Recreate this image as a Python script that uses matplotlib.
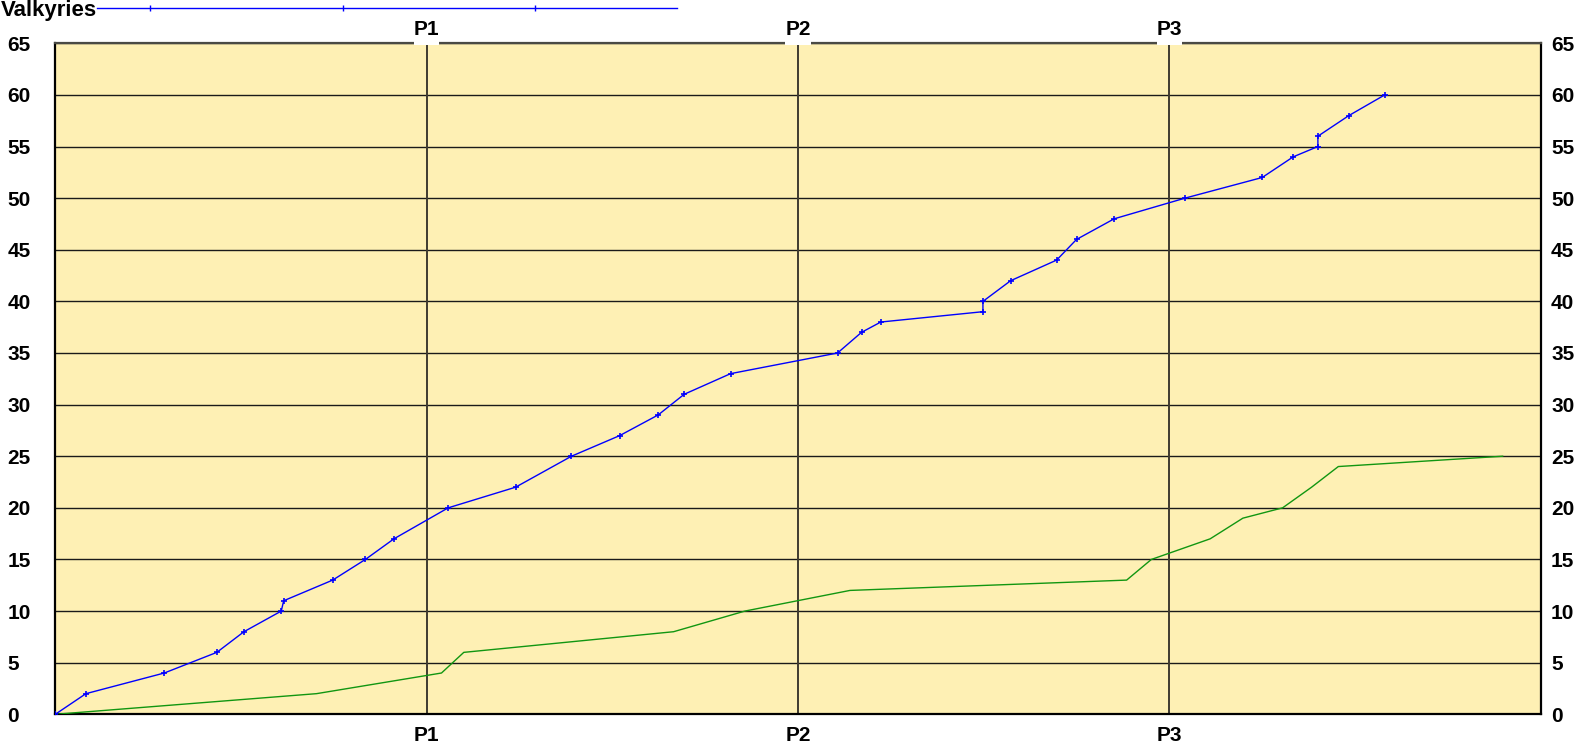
import matplotlib
matplotlib.use("Agg")
import matplotlib.pyplot as plt
import matplotlib.transforms as mtransforms
from matplotlib.lines import Line2D
from matplotlib.patches import Rectangle

plt.rcParams['font.family'] = ['Liberation Sans', 'DejaVu Sans']

# ---- data ----
period_ticks = [20, 40, 60]
period_labels = ["P1", "P2", "P3"]
y_ticks = list(range(0, 70, 5))

valk_t = [0, 1.65, 5.87, 8.7, 10.16, 12.17, 12.3, 14.94, 16.7, 18.24, 21.16, 24.79,
          27.8, 30.4, 32.47, 33.87, 36.37, 42.13, 43.42, 44.46, 49.96, 49.96, 51.45,
          53.93, 55.0, 57.03, 60.84, 65.0, 66.67, 68.0, 68.0, 69.67, 71.6]
valk_v = [0, 2, 4, 6, 8, 10, 11, 13, 15, 17, 20, 22,
          25, 27, 29, 31, 33, 35, 37, 38, 39, 40, 42,
          44, 46, 48, 50, 52, 54, 55, 56, 58, 60]

opp_t = [0, 14.07, 20.8, 22.0, 33.3, 37.14, 42.8, 57.7, 59.03, 62.2, 63.96, 66.1,
         67.66, 69.1, 77.95]
opp_v = [0, 2, 4, 6, 8, 10, 12, 13, 15, 17, 19, 20, 22, 24, 25]

series_name = "Valkyries"

# ---- figure ----
W, H = 1578, 742
fig = plt.figure(figsize=(W / 100, H / 100), dpi=100)
L, R, B, T = 55.3, 1540.7, 714.3, 43.3
ax = fig.add_axes([L / W, 1 - B / H, (R - L) / W, (B - T) / H])
ax.set_facecolor('#FEF0B4')

ax.set_xlim(0, 80)
ax.set_ylim(0, 65)

# grid
for y in y_ticks:
    ax.axhline(y, color='#1a1a1a', lw=1.0, zorder=1)
for x in period_ticks:
    ax.axvline(x, color='#3f3b30', lw=1.4, zorder=1)

ax.plot(opp_t, opp_v, color='#119611', lw=1.0, zorder=3)
ax.plot(valk_t, valk_v, color='#0000FF', lw=1.0, marker='+', ms=5, mew=1.2, zorder=4)

# spines
for s in ['left', 'bottom', 'right']:
    ax.spines[s].set_color('black')
    ax.spines[s].set_linewidth(1.6)
ax.spines['top'].set_color('#4a4a44')
ax.spines['top'].set_linewidth(1.6)

# y tick labels (left, left-aligned at the figure edge)
lab_font = dict(fontsize=15, fontweight='bold')
ax.set_yticks(y_ticks)
ax.set_yticklabels([str(v) for v in y_ticks], **lab_font)
ax.tick_params(axis='y', length=0, left=True, right=False,
               labelleft=True, labelright=False, pad=34.5)
for t in ax.yaxis.get_major_ticks():
    t.label1.set_horizontalalignment('left')

# y tick labels (right)
ax2 = ax.twinx()
ax2.set_ylim(0, 65)
ax2.set_yticks(y_ticks)
ax2.set_yticklabels([str(v) for v in y_ticks], **lab_font)
ax2.tick_params(axis='y', length=0, pad=7.5, left=False, labelleft=False)
for s in ax2.spines.values():
    s.set_visible(False)

# x tick labels, bottom and top
ax.set_xticks(period_ticks)
ax.set_xticklabels(period_labels, **lab_font)
ax.tick_params(axis='x', length=0, top=True, labeltop=True, bottom=True,
               labelbottom=True, pad=8.5)
for t in ax.xaxis.get_major_ticks():
    t.label2.set_bbox(dict(facecolor='white', edgecolor='none', boxstyle='square,pad=0.05'))

# white gaps in top border under top labels (tied to tick positions)
hpx = (B - T)
for x in period_ticks:
    ax.add_patch(Rectangle((x - 0.68, 1 - 1.5 / hpx), 1.36, 3.5 / hpx,
                           transform=ax.get_xaxis_transform(),
                           facecolor='white', edgecolor='none', clip_on=False, zorder=5))

# legend (manual)
fig.text(1 / W, 1 - 16 / H, series_name, fontsize=16, fontweight='bold', ha='left', va='baseline')
ly = 1 - 8 / H
fig.add_artist(Line2D([97 / W, 677 / W], [ly, ly], color='#0000FF', lw=1.0, transform=fig.transFigure))
fig.add_artist(Line2D([150 / W, 343 / W, 535 / W], [ly, ly, ly], color='#0000FF', lw=0,
                      marker='|', ms=4, mew=1.0, transform=fig.transFigure))

fig.canvas.draw()
# top labels: centered ~13.5 px above the top border
for t in ax.xaxis.get_major_ticks():
    t.label2.set_va('center')
    t.label2.set_y(1.0)
    t.label2.set_transform(ax.get_xaxis_transform() +
                           mtransforms.ScaledTranslation(0, 13.5 / 100, fig.dpi_scale_trans))

fig.savefig('out.png', dpi=100)
